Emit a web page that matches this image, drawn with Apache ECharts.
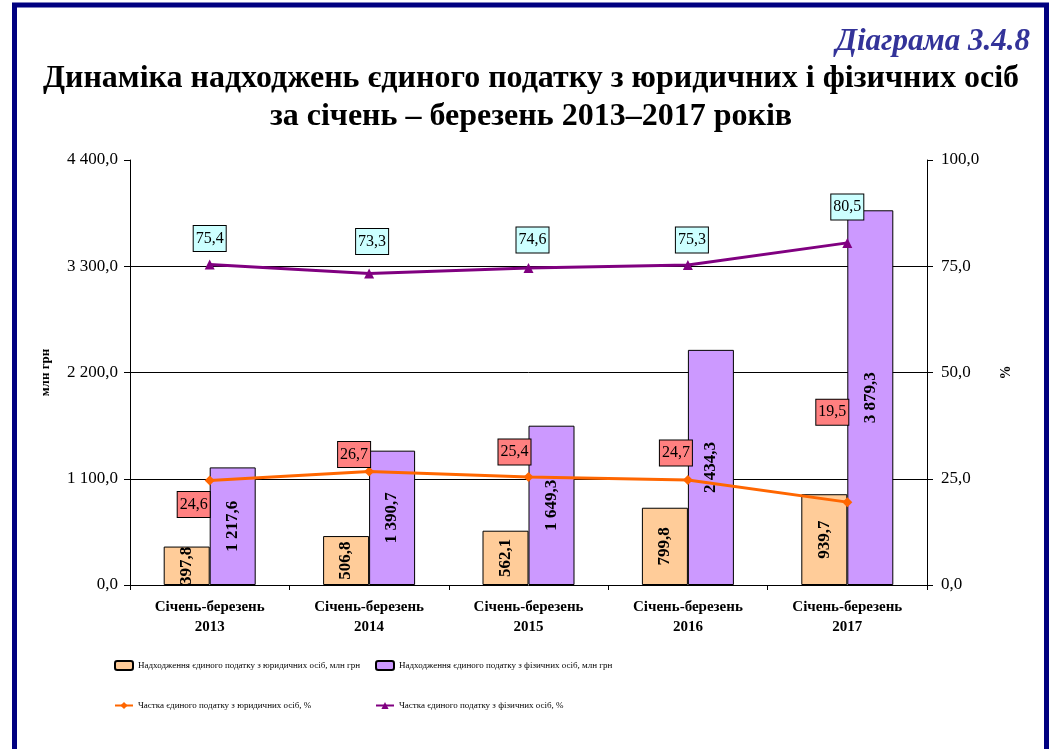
<!DOCTYPE html>
<html><head><meta charset="utf-8">
<script src="https://cdn.jsdelivr.net/npm/echarts@6/dist/echarts.min.js"></script>
<style>html,body{margin:0;padding:0;background:#fff;overflow:hidden}#c{width:1052px;height:749px}</style>
</head><body><div id="c"></div>
<script>
const categories = ['Січень-березень\n2013', 'Січень-березень\n2014', 'Січень-березень\n2015', 'Січень-березень\n2016', 'Січень-березень\n2017'];
const legalRevenue = [397.8, 506.8, 562.1, 799.8, 939.7];
const individualRevenue = [1217.6, 1390.7, 1649.3, 2434.3, 3879.3];
const legalShare = [24.6, 26.7, 25.4, 24.7, 19.5];
const individualShare = [75.4, 73.3, 74.6, 75.3, 80.5];
const seriesNames = [
  'Надходження єдиного податку з юридичних осіб, млн грн',
  'Надходження єдиного податку з фізичних осіб, млн грн',
  'Частка єдиного податку з юридичних осіб, %',
  'Частка єдиного податку з фізичних осіб, %'
];
const leftAxisTicks = {min: 0, max: 4400, interval: 1100};
const rightAxisTicks = {min: 0, max: 100, interval: 25};

// label layout (offsets from the point, in px)
const legalLabelOffsets = [[-16, 24], [-15, -17], [-14, -25], [-12, -27], [-15, -90]];
const indivLabelOffsets = [[0, -26], [3, -32], [4, -28], [4, -25], [0, -36]];

const FF = '"Liberation Serif", "Times New Roman", serif';
function fmt(v) {
  const s = Number(v).toFixed(1).split('.');
  return s[0].replace(/\B(?=(\d{3})+(?!\d))/g, ' ') + ',' + s[1];
}

const chart = echarts.init(document.getElementById('c'), null, {renderer: 'canvas'});
const lineLabelBase = {
  show: true, position: 'inside', formatter: p => fmt(p.value),
  fontFamily: FF, fontSize: 16, color: '#000',
  borderColor: '#000', borderWidth: 1, padding: [4, 2, 3, 2], lineHeight: 18
};
const legendText = {fontFamily: FF, fontSize: 9, color: '#000'};
chart.setOption({
  animation: false,
  backgroundColor: '#fff',
  textStyle: {fontFamily: FF},
  title: [
    {text: 'Діаграма 3.4.8', right: 22, top: 26, padding: 0,
     textStyle: {fontFamily: FF, fontStyle: 'italic', fontWeight: 'bold', fontSize: 31, color: '#333399'}},
    {text: 'Динаміка надходжень єдиного податку з юридичних і фізичних осіб\nза січень – березень 2013–2017 років',
     left: 531, top: 60, textAlign: 'center', padding: 0,
     textStyle: {fontFamily: FF, fontWeight: 'bold', fontSize: 32, lineHeight: 38, color: '#000'}}
  ],
  legend: [
    {left: 114, top: 660, padding: 0, itemWidth: 18, itemHeight: 9, data: [seriesNames[0]], textStyle: legendText},
    {left: 375, top: 660, padding: 0, itemWidth: 18, itemHeight: 9, data: [seriesNames[1]], textStyle: legendText},
    {left: 114, top: 701, padding: 0, itemWidth: 18, itemHeight: 9, data: [seriesNames[2]], textStyle: legendText},
    {left: 375, top: 701, padding: 0, itemWidth: 18, itemHeight: 9, data: [seriesNames[3]], textStyle: legendText}
  ],
  grid: {left: 130, right: 125, top: 160, bottom: 164, containLabel: false},
  xAxis: {
    type: 'category', data: categories,
    axisLine: {lineStyle: {color: '#000', width: 1}},
    axisTick: {show: true, length: 5, lineStyle: {color: '#000'}},
    axisLabel: {fontFamily: FF, fontWeight: 'bold', fontSize: 15, lineHeight: 20, color: '#000', margin: 12, interval: 0}
  },
  yAxis: [
    {type: 'value', min: leftAxisTicks.min, max: leftAxisTicks.max, interval: leftAxisTicks.interval,
     name: 'млн грн', nameLocation: 'middle', nameGap: 78, nameRotate: 90,
     nameTextStyle: {fontFamily: FF, fontWeight: 'bold', fontSize: 13, color: '#000'},
     axisLine: {show: true, lineStyle: {color: '#000'}},
     axisTick: {show: true, length: 6, lineStyle: {color: '#000'}},
     axisLabel: {fontFamily: FF, fontSize: 17, color: '#000', margin: 12, formatter: fmt},
     splitLine: {show: true, showMinLine: false, showMaxLine: false, lineStyle: {color: '#000', width: 1}}},
    {type: 'value', position: 'right', min: rightAxisTicks.min, max: rightAxisTicks.max, interval: rightAxisTicks.interval,
     name: '%', nameLocation: 'middle', nameGap: 72, nameRotate: 90,
     nameTextStyle: {fontFamily: FF, fontWeight: 'bold', fontSize: 14, color: '#000'},
     axisLine: {show: true, lineStyle: {color: '#000'}},
     axisTick: {show: true, length: 6, lineStyle: {color: '#000'}},
     axisLabel: {fontFamily: FF, fontSize: 17, color: '#000', margin: 14, formatter: fmt},
     splitLine: {show: false}}
  ],
  series: [
    {name: seriesNames[0], type: 'bar', yAxisIndex: 0, data: legalRevenue, barWidth: 46, barGap: '0%',
     itemStyle: {color: '#FFCC99', borderColor: '#000', borderWidth: 1},
     label: {show: true, position: 'inside', rotate: 90, formatter: p => fmt(p.value),
             fontFamily: FF, fontWeight: 'bold', fontSize: 17, color: '#000'}},
    {name: seriesNames[1], type: 'bar', yAxisIndex: 0, data: individualRevenue, barWidth: 46, barGap: '0%',
     itemStyle: {color: '#CC99FF', borderColor: '#000', borderWidth: 1},
     label: {show: true, position: 'inside', rotate: 90, formatter: p => fmt(p.value),
             fontFamily: FF, fontWeight: 'bold', fontSize: 17, color: '#000'}},
    {name: seriesNames[2], type: 'line', yAxisIndex: 1,
     data: legalShare.map((v, i) => ({value: v, label: {offset: legalLabelOffsets[i]}})),
     symbol: 'diamond', symbolSize: 10, z: 5,
     lineStyle: {color: '#FF6600', width: 3}, itemStyle: {color: '#FF6600'},
     label: Object.assign({}, lineLabelBase, {backgroundColor: '#FF8080'})},
    {name: seriesNames[3], type: 'line', yAxisIndex: 1,
     data: individualShare.map((v, i) => ({value: v, label: {offset: indivLabelOffsets[i]}})),
     symbol: 'triangle', symbolSize: 10, z: 5,
     lineStyle: {color: '#800080', width: 3}, itemStyle: {color: '#800080'},
     label: Object.assign({}, lineLabelBase, {backgroundColor: '#CCFFFF'})}
  ],
  graphic: [
    {type: 'rect', silent: true, z: 100,
     shape: {x: 14.5, y: 5, width: 1032, height: 780},
     style: {fill: 'none', stroke: '#000080', lineWidth: 5}}
  ]
});
</script></body></html>
